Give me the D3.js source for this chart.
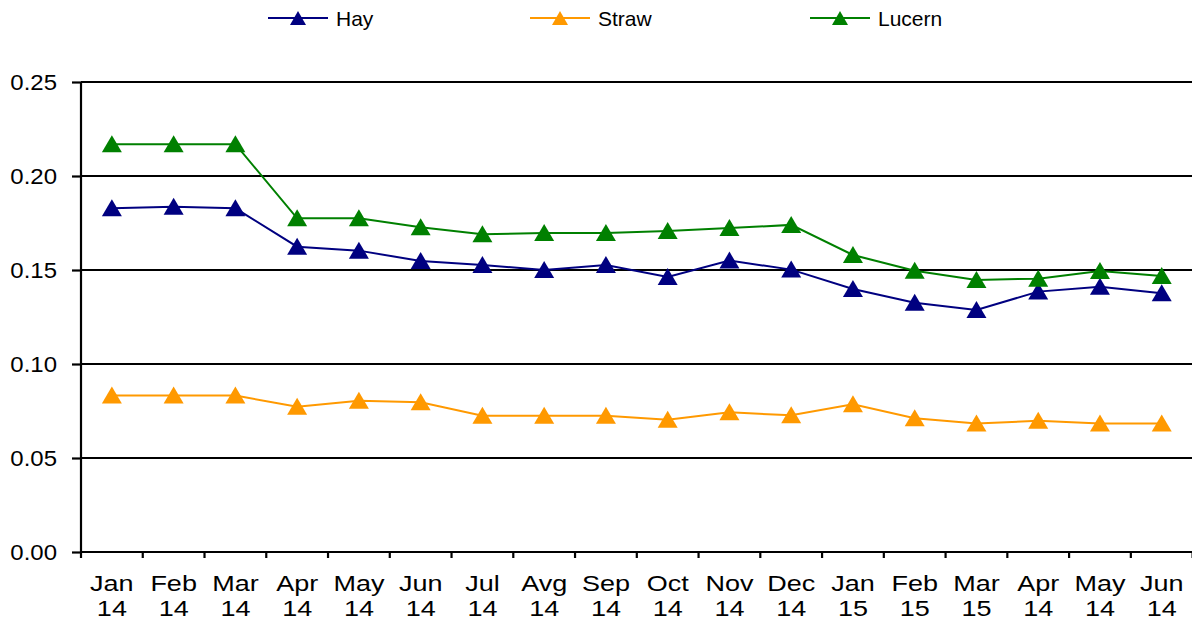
<!DOCTYPE html>
<html><head><meta charset="utf-8">
<script src="https://cdn.jsdelivr.net/npm/d3@7"></script>
<style>body{margin:0;background:#fff}svg{display:block;font-family:"Liberation Sans",Arial,sans-serif}</style>
</head><body><svg id="c" width="1192" height="622"></svg>
<script>
const months = ["Jan","Feb","Mar","Apr","May","Jun","Jul","Avg","Sep","Oct","Nov","Dec","Jan","Feb","Mar","Apr","May","Jun"];
const years  = ["14","14","14","14","14","14","14","14","14","14","14","14","15","15","15","14","14","14"];
const hay    = [0.1828,0.1837,0.1828,0.1624,0.1603,0.1548,0.1527,0.1500,0.1527,0.1463,0.1550,0.1502,0.1399,0.1326,0.1287,0.1385,0.1411,0.1376];
const straw  = [0.0832,0.0832,0.0832,0.0773,0.0805,0.0796,0.0725,0.0725,0.0725,0.0704,0.0743,0.0727,0.0786,0.0711,0.0684,0.0698,0.0684,0.0684];
const lucern = [0.2169,0.2169,0.2169,0.1775,0.1775,0.1727,0.1690,0.1697,0.1697,0.1707,0.1723,0.1740,0.1580,0.1496,0.1447,0.1454,0.1495,0.1468];
const yTicks = [0,0.05,0.10,0.15,0.20,0.25];
const seriesNames = ["Hay","Straw","Lucern"];
const seriesColors = ["#000080","#FF9900","#008000"];
const seriesData = [hay, straw, lucern];

const svg = d3.select("#c");
const pL = 81, pR = 1192.6, pT = 82, pB = 552;
const idx = d3.range(months.length);
const x = d3.scaleBand().domain(idx).range([pL, pR]);
const y = d3.scaleLinear().domain([0,0.25]).range([pB, pT]);

// gridlines
svg.append("g").selectAll("line").data(yTicks.filter(d=>d>0)).join("line")
  .attr("x1", pL).attr("x2", 1192).attr("y1", d=>y(d)).attr("y2", d=>y(d))
  .attr("stroke","#000").attr("stroke-width",2.2);

// y axis
const ya = svg.append("g").attr("transform",`translate(${pL},0)`)
  .call(d3.axisLeft(y).tickValues(yTicks).tickFormat("").tickSize(9));
ya.select(".domain").attr("stroke","#000").attr("stroke-width",2.2).attr("d",`M0,${pB}V${pT}`);
ya.selectAll(".tick line").attr("stroke","#000").attr("stroke-width",2.2);
svg.append("g").selectAll("text").data(yTicks).join("text")
  .attr("transform", d=>`translate(57,${y(d)}) scale(1.09,1)`)
  .attr("text-anchor","end").attr("dy","0.36em")
  .attr("font-size",22).attr("fill","#000").text(d3.format(".2f"));

// x axis
const xa = svg.append("g").attr("transform",`translate(0,${pB})`)
  .call(d3.axisBottom(x).tickFormat("").tickSize(0));
xa.select(".domain").attr("stroke","#000").attr("stroke-width",2.2).attr("d",`M${pL},0H1192`);
xa.selectAll(".tick").remove();
svg.append("g").selectAll("line").data(d3.range(months.length+1)).join("line")
  .attr("x1", i=>pL + i*x.step()).attr("x2", i=>pL + i*x.step())
  .attr("y1", pB).attr("y2", pB+6).attr("stroke","#000").attr("stroke-width",2.2);
const cx = i => x(i)+x.bandwidth()/2;
const xl = svg.append("g").selectAll("g").data(idx).join("g")
  .attr("transform", i=>`translate(${cx(i)},0) scale(1.2,1)`);
xl.append("text").attr("text-anchor","middle").attr("y",591).attr("font-size",22.5).attr("fill","#000").text(i=>months[i]);
xl.append("text").attr("text-anchor","middle").attr("y",616).attr("font-size",22.5).attr("fill","#000").text(i=>years[i]);

const tri = "M0,-9L10,8H-10Z";
seriesData.forEach((data, s) => {
  const g = svg.append("g");
  g.append("path").datum(data)
    .attr("d", d3.line().x((d,i)=>cx(i)).y(d=>y(d)))
    .attr("fill","none").attr("stroke",seriesColors[s]).attr("stroke-width",2);
  g.selectAll("path.m").data(data).join("path").attr("class","m")
    .attr("transform",(d,i)=>`translate(${cx(i)},${y(d)})`)
    .attr("d",tri).attr("fill",seriesColors[s]);
});

// legend
const legX = [268, 530, 810];
const lg = svg.append("g");
seriesNames.forEach((n,s)=>{
  const lx = legX[s];
  lg.append("line").attr("x1",lx).attr("x2",lx+60).attr("y1",18).attr("y2",18)
    .attr("stroke",seriesColors[s]).attr("stroke-width",2);
  lg.append("path").attr("d","M0,-8L8,6H-8Z").attr("transform",`translate(${lx+30},19)`).attr("fill",seriesColors[s]);
  lg.append("text").attr("x",lx+68).attr("y",26).attr("font-size",21).attr("fill","#000").text(n);
});
</script></body></html>
